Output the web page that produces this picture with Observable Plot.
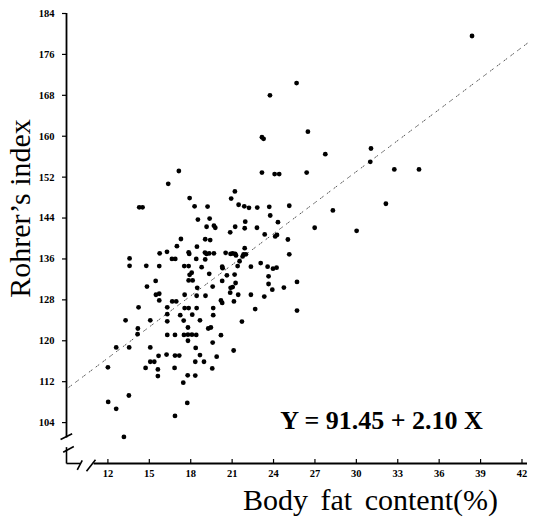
<!DOCTYPE html>
<html>
<head>
<meta charset="utf-8">
<script src="https://cdn.jsdelivr.net/npm/d3@7"></script>
<script src="https://cdn.jsdelivr.net/npm/@observablehq/plot@0.6"></script>
<style>
  html, body { margin: 0; padding: 0; background: #fff; }
  #chart svg { display: block; }
</style>
</head>
<body>
<div id="chart"></div>
<script>
// ---- data ----
const xTicks = [12, 15, 18, 21, 24, 27, 30, 33, 36, 39, 42];
const yTicks = [104, 112, 120, 128, 136, 144, 152, 160, 168, 176, 184];

const bodyFat = [
  17.14,16.37,17.92,18.28,14.27,14.51,18.52,17.29,17.0,18.45,15.75,16.28,17.85,17.89,13.57,16.64,16.88,18.40,13.57,14.78,15.72,17.53,17.85,18.07,17.92,17.85,18.14,15.46,14.83,18.47,
  23.16,24.08,24.41,21.20,20.93,21.47,21.88,22.22,22.82,23.69,25.14,19.22,19.37,23.76,21.95,24.32,19.15,19.68,19.78,21.91,22.80,21.22,20.86,23.36,24.25,24.12,19.05,19.41,25.04,21.91,19.03,19.15,19.34,19.68,20.53,20.89,21.04,21.22,21.28,21.83,22.0,21.76,25.14,19.05,21.54,21.40,23.07,18.79,20.28,20.31,22.36,23.57,23.96,24.22,19.34,20.62,21.18,23.64,25.70,20.28,21.25,19.59,20.89,21.04,23.64,23.91,24.75,
  15.48,15.72,17.56,18.43,15.72,16.66,16.95,14.22,16.30,17.56,17.85,18.43,16.30,17.24,18.11,13.28,15.07,16.30,17.49,14.17,17.80,14.15,16.30,16.86,17.51,17.80,18.09,18.40,17.80,12.60,13.54,15.07,18.36,15.67,16.25,16.86,17.17,15.07,15.36,18.33,12.0,14.73,15.62,16.83,15.62,17.78,18.33,17.46,13.52,12.02,17.75,12.60,16.86,13.16,
  20.86,19.07,21.44,22.36,23.33,20.19,20.28,21.13,19.63,22.67,25.70,19.63,18.67,21.71,19.27,19.46,20.19,19.59,21.11,18.67,19.88,18.96,19.56,
  38.38,25.67,23.74,23.16,23.28,26.49,27.75,31.06,31.01,32.75,34.54,26.40,32.14,28.30,26.98,30.02
];
const rohrerIndex = [
  153.2,150.7,147.9,146.3,146.1,146.1,143.7,139.9,138.5,138.4,137.1,137.4,137.3,137.0,136.1,136.0,136.0,136.0,134.65,134.65,134.6,134.6,134.6,133.3,132.9,131.8,131.8,131.7,130.6,130.35,
  152.9,152.6,152.6,149.2,147.8,146.6,146.3,146.0,146.05,146.2,146.4,146.25,143.9,144.5,143.3,143.2,142.3,142.5,142.1,142.0,142.1,142.3,141.2,140.8,140.7,140.4,139.85,139.7,139.8,138.1,137.25,137.0,137.1,137.1,137.2,137.0,137.1,137.0,136.7,136.9,136.9,136.5,136.9,135.9,135.55,134.6,135.2,134.4,134.5,134.2,134.5,134.5,134.1,134.3,133.1,132.8,132.95,132.6,131.5,131.7,131.3,130.6,130.35,130.5,131.1,130.0,130.4,
  129.0,129.2,129.0,128.8,127.9,127.7,127.7,126.55,126.55,126.4,126.4,126.4,125.2,125.0,125.1,124.0,124.0,123.8,123.95,122.4,122.6,121.3,121.15,121.15,121.15,121.2,121.2,121.15,120.0,118.7,118.7,118.7,118.6,117.05,117.3,117.1,117.1,115.9,115.9,115.9,114.8,114.7,114.4,114.7,113.1,113.25,113.2,111.8,109.3,108.05,107.85,106.7,105.3,101.2,
  129.4,128.8,129.0,129.0,128.65,127.9,127.4,127.7,126.4,126.2,125.9,125.0,124.0,123.75,122.4,122.6,121.1,119.65,118.1,117.2,116.9,115.9,114.6,
  179.6,170.4,168.0,159.8,159.5,160.9,156.5,157.6,155.0,153.5,153.5,152.9,146.8,145.5,142.1,141.5
];

// regression line as drawn (end points)
const regLineX = [9.17, 42.45];
const regLineY = [110.9, 178.3];

const equationText = "Y = 91.45 + 2.10 X";
const xTitle = "Body fat content(%)";
const yTitle = "Rohrer\u2019s index";

// broken-axis decoration, in data units
const axisBreaks = [
  {x1: 8.57, y1: 100.69, x2: 9.41, y2: 101.81},
  {x1: 8.76, y1: 98.21, x2: 9.53, y2: 99.33},
  {x1: 9, y1: 99.2, x2: 9, y2: 96},
  {x1: 9, y1: 96, x2: 10.0, y2: 96},
  {x1: 9.78, y1: 94.77, x2: 10.14, y2: 96.59},
  {x1: 10.45, y1: 94.49, x2: 11.10, y2: 96.72}
];
const yAxisSpan = [101.0, 184];
const xAxisSpan = [11.0, 42.4];
const xBase = 96;

// ---- build table ----
const points = bodyFat.map((x, i) => ({x, y: rohrerIndex[i]}));
const regLine = regLineX.map((x, i) => ({x, y: regLineY[i]}));

const serif = "'Liberation Serif', 'Times New Roman', serif";

const chart = Plot.plot({
  width: 536,
  height: 518,
  marginLeft: 66,
  marginRight: 9,
  marginTop: 13,
  marginBottom: 55,
  x: {type: "linear", domain: [9, 42.4]},
  y: {type: "linear", domain: [96, 184]},
  style: {background: "white", color: "black", fontFamily: serif, overflow: "visible"},
  marks: [
    Plot.axisY({ticks: yTicks, tickSize: 4, tickPadding: 8, fontSize: 10.5, fontWeight: "bold", label: null, tickFormat: d => String(d), strokeWidth: 1.2}),
    Plot.axisX({ticks: xTicks, tickSize: 0, tickPadding: 6, fontSize: 10.5, fontWeight: "bold", label: null, tickFormat: d => String(d)}),
    Plot.ruleX(xTicks, {x: d => d, y1: xBase, y2: xBase, insetTop: -4, strokeWidth: 1.2}),
    Plot.ruleX([9], {x: d => d, y1: yAxisSpan[0], y2: yAxisSpan[1], strokeWidth: 1.8}),
    Plot.ruleY([xBase], {y: d => d, x1: xAxisSpan[0], x2: xAxisSpan[1], strokeWidth: 1.8}),
    Plot.link(axisBreaks, {x1: "x1", y1: "y1", x2: "x2", y2: "y2", strokeWidth: 1.6}),
    Plot.line(regLine, {x: "x", y: "y", stroke: "#444", strokeWidth: 0.9, strokeDasharray: "1,1.5,1,5"}),
    Plot.dot(points, {x: "x", y: "y", r: 2.4, fill: "black", stroke: "none"}),
    Plot.text([equationText], {frameAnchor: "bottom", dx: 84.5, dy: -35, fontSize: 26, fontWeight: "bold", fontFamily: serif}),
    Plot.text([xTitle], {frameAnchor: "bottom", dx: 73.5, dy: 46, fontSize: 30, fontFamily: serif}),
    Plot.text([yTitle], {frameAnchor: "left", textAnchor: "middle", dx: -46, dy: -30, rotate: -90, fontSize: 30, fontFamily: serif})
  ]
});
d3.select(chart).selectAll("text").filter(function() { return this.textContent === xTitle; })
  .attr("word-spacing", "5");
document.getElementById("chart").appendChild(chart);
</script>
</body>
</html>
